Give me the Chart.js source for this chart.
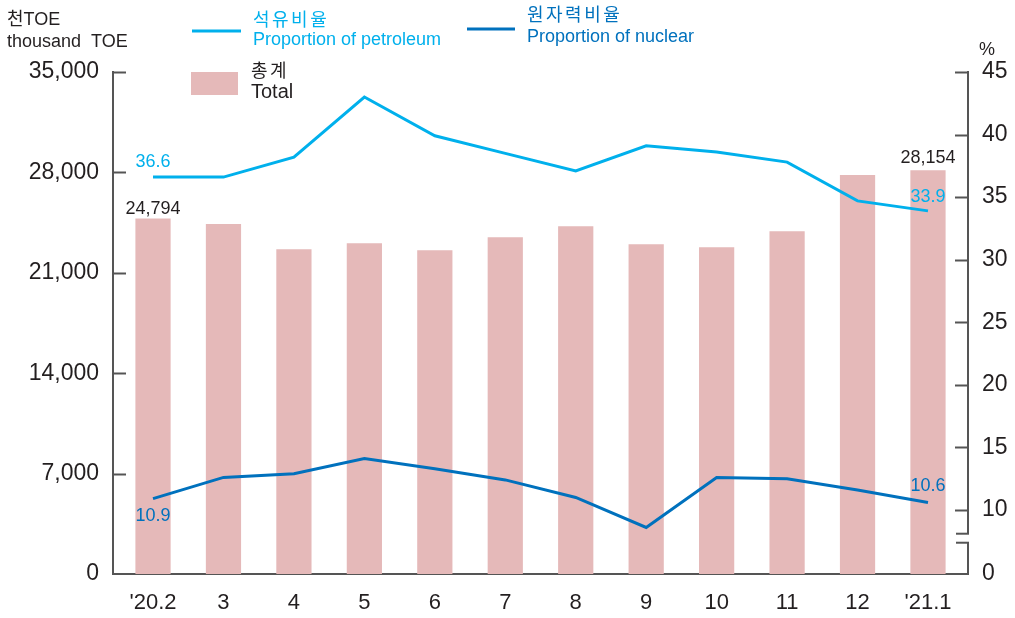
<!DOCTYPE html>
<html>
<head>
<meta charset="utf-8">
<script src="https://cdn.jsdelivr.net/npm/chart.js@4.4.1/dist/chart.umd.min.js"></script>
<style>
  body { margin: 0; background: #fff; }
  #wrap { width: 1015px; height: 618px; }
</style>
</head>
<body>
<div id="wrap"><canvas id="energy_canvas" width="1015" height="618"></canvas></div>
<script>
// month labels on the x axis
var categories = ["'20.2", "3", "4", "5", "6", "7", "8", "9", "10", "11", "12", "'21.1"];
// total supply, thousand TOE (left axis)
var totals = [24794, 24400, 22640, 23060, 22570, 23480, 24240, 22990, 22780, 23900, 27820, 28154];
// shares in % (right axis)
var petroleum = [36.6, 36.6, 38.2, 43.0, 39.9, 38.5, 37.1, 39.1, 38.6, 37.8, 34.7, 33.9];
var nuclear = [10.9, 12.6, 12.9, 14.1, 13.3, 12.4, 11.0, 8.6, 12.6, 12.5, 11.6, 10.6];
// tick values
var leftTicks = [0, 7000, 14000, 21000, 28000, 35000];
var rightTicks = [10, 15, 20, 25, 30, 35, 40, 45];
var rightBottomLabel = '0';

var cPetro = '#00b0ec';
var cNuke = '#0071bd';
var cBar = '#e5b9b9';
var cAxis = '#555555';
var cText = '#231f20';
var rightMin = 4.88;
var breakHigh = 8.1, breakLow = 7.38;
var en = '"Liberation Sans", Arial, sans-serif';
var kr = '"Liberation Sans", "Noto Sans CJK KR", sans-serif';

function drawLine(ctx, x1, y1, x2, y2) {
    ctx.beginPath();
    ctx.moveTo(x1, y1);
    ctx.lineTo(x2, y2);
    ctx.stroke();
}

// inward tick marks and the broken right axis
var axisDeco = {
    id: 'axisDeco',
    afterDraw: function (chart) {
        var ctx = chart.ctx;
        var a = chart.chartArea;
        var y = chart.scales.y, y1 = chart.scales.y1;
        ctx.save();
        ctx.strokeStyle = cAxis;
        ctx.lineWidth = 2;
        leftTicks.forEach(function (v) {
            if (v === 0) return;
            var py = Math.round(y.getPixelForValue(v)) + 0.5;
            drawLine(ctx, a.left, py, a.left + 13, py);
        });
        rightTicks.forEach(function (v) {
            var py = Math.round(y1.getPixelForValue(v)) + 0.5;
            drawLine(ctx, a.right - 13, py, a.right, py);
        });
        var bh = y1.getPixelForValue(breakHigh), bl = y1.getPixelForValue(breakLow);
        drawLine(ctx, a.right, a.top - 1, a.right, bh);
        drawLine(ctx, a.right - 12, bh, a.right + 1, bh);
        drawLine(ctx, a.right - 12, bl, a.right + 1, bl);
        drawLine(ctx, a.right, bl, a.right, a.bottom + 1);
        ctx.restore();
    }
};

// value labels on first and last points
var valueLabels = {
    id: 'valueLabels',
    afterDatasetsDraw: function (chart) {
        var ctx = chart.ctx;
        ctx.save();
        ctx.font = '18px ' + en;
        ctx.textAlign = 'center';
        ctx.textBaseline = 'alphabetic';
        chart.data.datasets.forEach(function (ds, di) {
            var meta = chart.getDatasetMeta(di);
            (ds.labelAt || []).forEach(function (l) {
                var el = meta.data[l.i];
                var v = ds.data[l.i].y;
                ctx.fillStyle = ds.labelColor;
                ctx.fillText(ds.labelFmt(v), el.x, el.y + l.dy);
            });
        });
        ctx.restore();
    }
};

// unit captions and the legend
var legendDeco = {
    id: 'legendDeco',
    afterDraw: function (chart) {
        var ctx = chart.ctx;
        ctx.save();
        ctx.textBaseline = 'alphabetic';
        ctx.textAlign = 'left';
        ctx.fillStyle = cText;
        ctx.font = '18px ' + kr;
        ctx.fillText('천TOE', 7, 25);
        ctx.font = '18px ' + en;
        ctx.fillText('thousand  TOE', 7, 47);
        ctx.fillText('%', 979, 55);

        ctx.lineWidth = 3;
        ctx.strokeStyle = cPetro;
        drawLine(ctx, 192, 31, 241, 31);
        ctx.strokeStyle = cNuke;
        drawLine(ctx, 467, 29, 515, 29);
        ctx.fillStyle = cBar;
        ctx.fillRect(191, 72, 47, 23);

        ctx.letterSpacing = '2.5px';
        ctx.font = '18px ' + kr;
        ctx.fillStyle = cPetro;
        ctx.fillText('석유비율', 253, 26);
        ctx.fillStyle = cNuke;
        ctx.fillText('원자력비율', 527, 21);
        ctx.fillStyle = cText;
        ctx.fillText('총계', 251, 77);
        ctx.letterSpacing = '0px';

        ctx.font = '18px ' + en;
        ctx.fillStyle = cPetro;
        ctx.fillText('Proportion of petroleum', 253, 45);
        ctx.fillStyle = cNuke;
        ctx.fillText('Proportion of nuclear', 527, 42);
        ctx.fillStyle = cText;
        ctx.font = '20px ' + en;
        ctx.fillText('Total', 251, 98);
        ctx.restore();
    }
};

function energy_chart() {
    var ctx = document.getElementById('energy_canvas');
    var fmt = function (v) { return v.toLocaleString('en-US'); };
    var one = function (v) { return v.toFixed(1); };
    new Chart(ctx, {
        type: 'bar',
        data: {
            datasets: [{
                type: 'line',
                label: '석유비율',
                data: petroleum.map(function (v, i) { return { x: i, y: v }; }),
                yAxisID: 'y1',
                borderColor: cPetro,
                borderWidth: 3,
                pointRadius: 0,
                tension: 0,
                order: 0,
                labelColor: cPetro,
                labelFmt: one,
                labelAt: [{ i: 0, dy: -10 }, { i: 11, dy: -9 }]
            }, {
                type: 'line',
                label: '원자력비율',
                data: nuclear.map(function (v, i) { return { x: i, y: v }; }),
                yAxisID: 'y1',
                borderColor: cNuke,
                borderWidth: 3,
                pointRadius: 0,
                tension: 0,
                order: 0,
                labelColor: cNuke,
                labelFmt: one,
                labelAt: [{ i: 0, dy: 22 }, { i: 11, dy: -11 }]
            }, {
                label: '총계',
                data: totals.map(function (v, i) { return { x: i, y: v }; }),
                yAxisID: 'y',
                backgroundColor: cBar,
                barPercentage: 0.5,
                categoryPercentage: 1,
                order: 1,
                labelColor: cText,
                labelFmt: fmt,
                labelAt: [{ i: 0, dy: -4 }, { i: 11, dy: -7 }]
            }]
        },
        options: {
            responsive: false,
            animation: false,
            layout: { padding: { top: 72, left: 0, right: 0, bottom: 0 } },
            plugins: { legend: { display: false }, tooltip: { enabled: false } },
            scales: {
                x: {
                    type: 'linear',
                    offset: false,
                    min: -0.568,
                    max: 11.568,
                    afterBuildTicks: function (s) {
                        s.ticks = categories.map(function (c, i) { return { value: i }; });
                    },
                    afterFit: function (s) { s.height = 44; },
                    grid: { display: false, drawTicks: false, offset: false },
                    border: { display: true, color: cAxis, width: 2 },
                    ticks: {
                        autoSkip: false,
                        maxRotation: 0,
                        padding: 16,
                        color: cText,
                        font: { family: en, size: 22 },
                        callback: function (v) { return categories[v]; }
                    }
                },
                y: {
                    position: 'left',
                    min: 0,
                    max: 35000,
                    afterBuildTicks: function (s) {
                        s.ticks = leftTicks.map(function (v) { return { value: v }; });
                    },
                    afterFit: function (s) { s.width = 113; },
                    grid: { display: false, drawTicks: false },
                    border: { display: true, color: cAxis, width: 2 },
                    ticks: {
                        padding: 14,
                        color: cText,
                        font: { family: en, size: 23 },
                        callback: fmt
                    }
                },
                y1: {
                    position: 'right',
                    min: rightMin,
                    max: 45,
                    afterBuildTicks: function (s) {
                        s.ticks = [{ value: rightMin }].concat(rightTicks.map(function (v) { return { value: v }; }));
                    },
                    afterFit: function (s) { s.width = 47; },
                    grid: { display: false, drawTicks: false },
                    border: { display: false },
                    ticks: {
                        padding: 14,
                        color: cText,
                        font: { family: en, size: 23 },
                        callback: function (v) { return v === rightMin ? rightBottomLabel : v; }
                    }
                }
            }
        },
        plugins: [axisDeco, valueLabels, legendDeco]
    });
}

energy_chart();
</script>
</body>
</html>
